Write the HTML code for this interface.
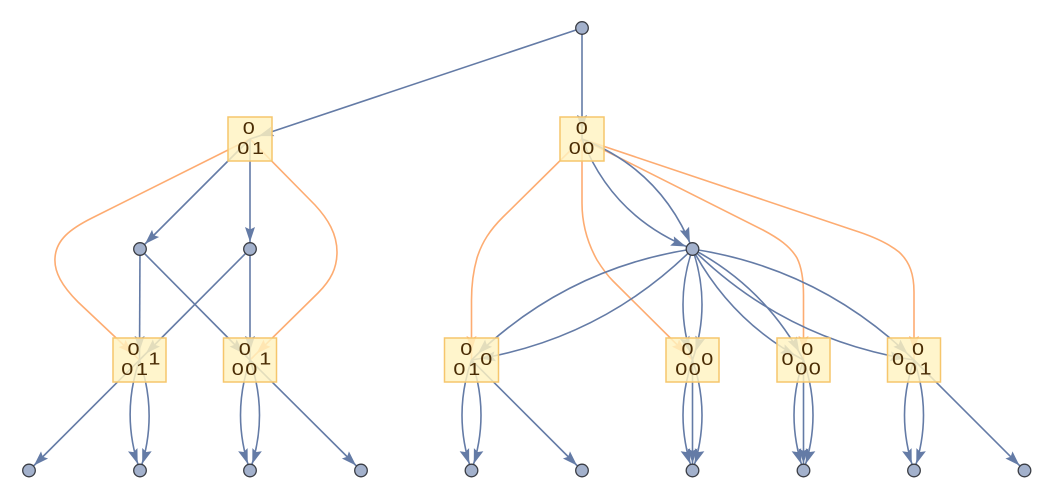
<!DOCTYPE html>
<html><head><meta charset="utf-8"><style>
html,body{margin:0;padding:0;background:#fff;}
svg{display:block;}
.e{fill:none;stroke:#647ba6;stroke-width:1.6;}
.o{fill:none;stroke:#fdac72;stroke-width:1.6;}
.bx{fill:#fff3c1;fill-opacity:0.82;stroke:#f6c66c;stroke-width:1.5;}
.d{fill:#a3b1cc;stroke:#3a3d44;stroke-width:1.3;}
text{font-family:"Liberation Sans",sans-serif;font-size:18px;fill:#4a2c04;text-anchor:middle;}
</style></head><body>
<svg width="1054" height="498" viewBox="0 0 1054 498" xmlns="http://www.w3.org/2000/svg">
<defs>
<marker id="md" markerUnits="userSpaceOnUse" orient="auto" refX="0" refY="0" markerWidth="40" markerHeight="20" viewBox="-30 -10 40 20" overflow="visible"><polygon points="-7,0 -22,-5 -19.5,0 -22,5" fill="#647ba6"/></marker>
<marker id="mb" markerUnits="userSpaceOnUse" orient="auto" refX="0" refY="0" markerWidth="40" markerHeight="20" viewBox="-30 -10 40 20" overflow="visible"><polygon points="-9,0 -24,-5 -21.5,0 -24,5" fill="#647ba6"/></marker>
<marker id="mo" markerUnits="userSpaceOnUse" orient="auto" refX="0" refY="0" markerWidth="40" markerHeight="20" viewBox="-30 -10 40 20" overflow="visible"><polygon points="-9,0 -24,-5 -21.5,0 -24,5" fill="#fdac72"/></marker>
</defs>

<!-- orange edges -->
<path class="o" marker-end="url(#mo)" d="M250,139 L92,218 C70,229 56,240 55,258 C54,272 62,286 78,302 L139.5,360"/>
<path class="o" marker-end="url(#mo)" d="M250,139 L315,205 C328,219 337,234 337,252 C337,268 331,280 318,293 L250,360"/>
<path class="o" marker-end="url(#mo)" d="M582,139 L503,217 C490,230 482,242 477,258 C473,272 471.5,285 471.5,300 L471.5,360"/>
<path class="o" marker-end="url(#mo)" d="M582,139 L582,203 C582,222 587,242 597,260 C602,268 607,275 613,281 L692.5,360"/>
<path class="o" marker-end="url(#mo)" d="M582,139 L763,230 C778,238 790,246 797,258 C802,268 803.5,280 803.5,295 L803.5,360"/>
<path class="o" marker-end="url(#mo)" d="M582,139 L853,230 C872,236 888,243 899,252 C910,262 914,275 914,292 L914,360"/>

<!-- blue edges -->
<path class="e" marker-end="url(#mb)" d="M582,28 L250,139"/>
<path class="e" marker-end="url(#mb)" d="M582,28 L582,139"/>
<path class="e" marker-end="url(#md)" d="M250,139 L140,249"/>
<path class="e" marker-end="url(#md)" d="M250,139 L250,249"/>
<path class="e" marker-end="url(#mb)" d="M140,249 L139.5,360"/>
<path class="e" marker-end="url(#mb)" d="M140,249 L250,360"/>
<path class="e" marker-end="url(#mb)" d="M250,249 L139.5,360"/>
<path class="e" marker-end="url(#mb)" d="M250,249 L250,360"/>
<path class="e" marker-end="url(#md)" d="M139.5,360 L29,470.5"/>
<path class="e" marker-end="url(#md)" d="M139.5,360 Q120.5,415 140,470.5"/>
<path class="e" marker-end="url(#md)" d="M139.5,360 Q158.5,415 140,470.5"/>
<path class="e" marker-end="url(#md)" d="M250,360 Q231,415 250,470.5"/>
<path class="e" marker-end="url(#md)" d="M250,360 Q269,415 250,470.5"/>
<path class="e" marker-end="url(#md)" d="M250,360 L361,470.5"/>

<path class="e" marker-end="url(#md)" d="M582,139 Q613.2,218.1 692.5,249"/>
<path class="e" marker-end="url(#md)" d="M582,139 Q661.3,169.9 692.5,249"/>
<path class="e" marker-end="url(#mb)" d="M692.5,249 Q564,268.7 471.5,360"/>
<path class="e" marker-end="url(#mb)" d="M692.5,249 Q600,340.3 471.5,360"/>
<path class="e" marker-end="url(#mb)" d="M692.5,249 Q673.5,304.5 692.5,360"/>
<path class="e" marker-end="url(#mb)" d="M692.5,249 Q711.5,304.5 692.5,360"/>
<path class="e" marker-end="url(#mb)" d="M692.5,249 Q765,287.5 803.5,360"/>
<path class="e" marker-end="url(#mb)" d="M692.5,249 Q731,321.5 803.5,360"/>
<path class="e" marker-end="url(#mb)" d="M692.5,249 Q821.2,268.7 914,360"/>
<path class="e" marker-end="url(#mb)" d="M692.5,249 Q785.3,340.3 914,360"/>

<path class="e" marker-end="url(#md)" d="M471.5,360 Q452.5,415 471.5,470.5"/>
<path class="e" marker-end="url(#md)" d="M471.5,360 Q490.5,415 471.5,470.5"/>
<path class="e" marker-end="url(#md)" d="M471.5,360 L582,470.5"/>
<path class="e" marker-end="url(#md)" d="M692.5,360 Q673.5,415 692.5,470.5"/>
<path class="e" marker-end="url(#md)" d="M692.5,360 L692.5,470.5"/>
<path class="e" marker-end="url(#md)" d="M692.5,360 Q711.5,415 692.5,470.5"/>
<path class="e" marker-end="url(#md)" d="M803.5,360 Q784.5,415 803.5,470.5"/>
<path class="e" marker-end="url(#md)" d="M803.5,360 L803.5,470.5"/>
<path class="e" marker-end="url(#md)" d="M803.5,360 Q822.5,415 803.5,470.5"/>
<path class="e" marker-end="url(#md)" d="M914,360 Q895,415 914,470.5"/>
<path class="e" marker-end="url(#md)" d="M914,360 Q933,415 914,470.5"/>
<path class="e" marker-end="url(#md)" d="M914,360 L1024.5,470.5"/>

<!-- boxes -->
<rect class="bx" x="228" y="117" width="44" height="44"/>
<rect class="bx" x="560" y="117" width="44" height="44"/>
<rect class="bx" x="113" y="338" width="53" height="44"/>
<rect class="bx" x="223.5" y="338" width="53" height="44"/>
<rect class="bx" x="444.5" y="338" width="54" height="44"/>
<rect class="bx" x="666" y="338" width="53" height="44"/>
<rect class="bx" x="777" y="338" width="53" height="44"/>
<rect class="bx" x="887.5" y="338" width="53" height="44"/>

<!-- labels -->
<text transform="translate(248.8,134) scale(1.2,1)">0</text>
<text transform="translate(243.2,154) scale(1.2,1)">0</text>
<text transform="translate(258,154) scale(1.2,1)">1</text>

<text transform="translate(581.7,134) scale(1.2,1)">0</text>
<text transform="translate(574.7,154) scale(1.2,1)">0</text>
<text transform="translate(588.3,154) scale(1.2,1)">0</text>

<text transform="translate(133.5,355) scale(1.2,1)">0</text>
<text transform="translate(127.2,375) scale(1.2,1)">0</text>
<text transform="translate(142,375) scale(1.2,1)">1</text>
<text transform="translate(154.4,364.5) scale(1.2,1)">1</text>

<text transform="translate(244.7,355) scale(1.2,1)">0</text>
<text transform="translate(237.7,375) scale(1.2,1)">0</text>
<text transform="translate(251.3,375) scale(1.2,1)">0</text>
<text transform="translate(265.2,364.5) scale(1.2,1)">1</text>

<text transform="translate(466.2,355) scale(1.2,1)">0</text>
<text transform="translate(459.4,375) scale(1.2,1)">0</text>
<text transform="translate(474.2,375) scale(1.2,1)">1</text>
<text transform="translate(486.2,365) scale(1.2,1)">0</text>

<text transform="translate(687.5,355) scale(1.2,1)">0</text>
<text transform="translate(681.2,375) scale(1.2,1)">0</text>
<text transform="translate(694.8,375) scale(1.2,1)">0</text>
<text transform="translate(707.2,365) scale(1.2,1)">0</text>

<text transform="translate(787.5,365) scale(1.2,1)">0</text>
<text transform="translate(807.3,355) scale(1.2,1)">0</text>
<text transform="translate(801.2,374.5) scale(1.2,1)">0</text>
<text transform="translate(814.8,374.5) scale(1.2,1)">0</text>

<text transform="translate(898,365) scale(1.2,1)">0</text>
<text transform="translate(918,355) scale(1.2,1)">0</text>
<text transform="translate(910.7,374.5) scale(1.2,1)">0</text>
<text transform="translate(925.5,374.5) scale(1.2,1)">1</text>

<!-- dots -->
<circle class="d" cx="582" cy="28" r="6.3"/>
<circle class="d" cx="140" cy="249" r="6.3"/>
<circle class="d" cx="250" cy="249" r="6.3"/>
<circle class="d" cx="692.5" cy="249" r="6.3"/>
<circle class="d" cx="29" cy="470.5" r="6.3"/>
<circle class="d" cx="140" cy="470.5" r="6.3"/>
<circle class="d" cx="250" cy="470.5" r="6.3"/>
<circle class="d" cx="361" cy="470.5" r="6.3"/>
<circle class="d" cx="471.5" cy="470.5" r="6.3"/>
<circle class="d" cx="582" cy="470.5" r="6.3"/>
<circle class="d" cx="692.5" cy="470.5" r="6.3"/>
<circle class="d" cx="803.5" cy="470.5" r="6.3"/>
<circle class="d" cx="914" cy="470.5" r="6.3"/>
<circle class="d" cx="1024.5" cy="470.5" r="6.3"/>
</svg>
</body></html>
